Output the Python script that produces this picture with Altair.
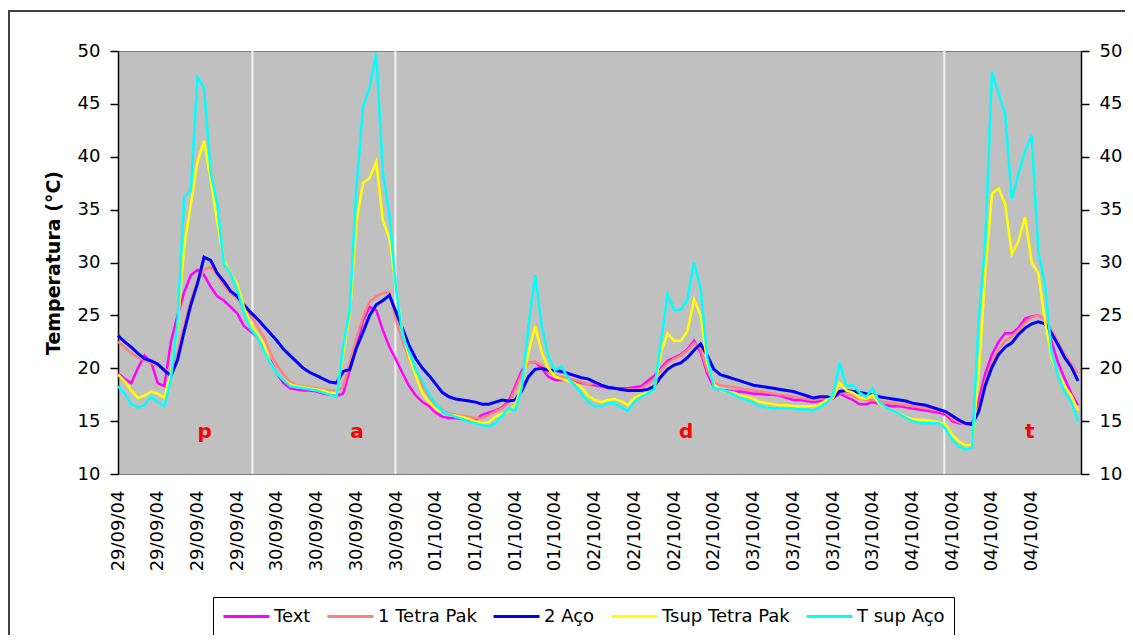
import json
import altair as alt
import pandas as pd

# ---------------- data ----------------
hours = list(range(146))  # hours since 29/09/04 00:00

text_vals = [
    19.5, 19.0, 18.6, 20.0, 21.2, 20.6, 18.6, 18.3, 22.5, 25.0,
    27.2, 28.8, 29.3, 28.8, 27.7, 26.8, 26.4, 25.8, 25.2, 24.0,
    23.5, 23.0, 21.8, 20.8, 19.5, 18.6, 18.1, 18.0, 17.9, 17.9,
    17.8, 17.6, 17.5, 17.4,
    17.6, 19.8, 22.0, 24.5, 25.8, 25.5, 23.6, 22.0, 20.8, 19.5,
    18.3, 17.4, 16.8, 16.4, 15.8, 15.4, 15.3, 15.3, 15.2, 15.1,
    15.1, 15.6, 15.8, 16.0, 16.3, 16.9, 18.3, 19.8, 20.5, 20.6,
    20.0, 19.2, 18.9, 18.9, 18.9, 18.8, 18.6, 18.5,
    18.4, 18.3, 18.1, 18.1, 18.1, 18.1, 18.2, 18.3, 18.8, 19.3,
    20.0, 20.7, 21.0, 21.3, 21.8, 22.6, 21.5, 19.5, 18.2, 17.9,
    17.9, 17.8, 17.8, 17.7, 17.6, 17.6, 17.5, 17.5, 17.4, 17.2,
    17.0, 17.0, 16.9, 16.8, 16.9, 17.1,
    17.2, 17.6, 17.3, 17.0, 16.6, 16.6, 16.8, 16.6, 16.5, 16.4,
    16.4, 16.3, 16.2, 16.1, 16.0, 15.9, 15.8, 15.6, 15.0, 14.8,
    14.8, 14.8, 17.0, 19.5, 21.3, 22.5, 23.3, 23.3, 23.8, 24.7,
    24.9, 25.0, 24.6, 22.5, 20.5, 19.0, 17.6, 16.5,
]

tetra_vals = [
    22.5, 22.0, 21.4, 21.0, 20.8, 20.5, 20.2, 19.9, 19.7, 21.5,
    24.0, 26.5, 28.2, 29.3, 29.6, 28.8, 27.8, 27.1, 26.6, 25.8,
    25.0, 24.0, 23.0, 21.5, 20.3, 19.4, 18.7, 18.4, 18.3, 18.2,
    18.1, 18.0, 17.9, 17.9,
    18.2, 20.5, 22.8, 24.8, 26.3, 26.8, 27.1, 27.2, 24.5, 22.5,
    20.8, 19.5, 18.3, 17.3, 16.5, 16.0, 15.7, 15.6, 15.5, 15.4,
    15.3, 15.3, 15.6, 15.9, 16.2, 16.7, 18.0, 19.5, 20.5, 20.6,
    20.3, 19.6, 19.3, 19.2, 19.0, 18.9, 18.7, 18.5,
    18.6, 18.4, 18.2, 18.1, 18.0, 18.0, 18.0, 18.1, 18.5, 19.0,
    19.8, 20.5, 20.9, 21.2, 21.7, 22.4, 21.8, 19.8, 18.6, 18.4,
    18.3, 18.2, 18.1, 18.0, 17.9, 17.8, 17.7, 17.6, 17.5, 17.4,
    17.3, 17.2, 17.1, 17.0, 17.1, 17.2,
    17.3, 17.7, 17.6, 17.4, 17.1, 17.0, 17.0, 16.9, 16.8, 16.7,
    16.6, 16.5, 16.4, 16.3, 16.2, 16.1, 16.0, 15.8, 15.2, 14.9,
    14.7, 14.7, 16.2, 18.8, 20.6, 21.8, 22.6, 23.0, 23.6, 24.3,
    24.8, 25.0, 24.6, 23.6, 22.5, 21.3, 20.4, 19.5,
]

aco_vals = [
    23.1, 22.5, 22.0, 21.4, 20.9, 20.7, 20.4, 19.8, 19.3, 20.8,
    23.5, 26.0, 28.0, 30.5, 30.2, 29.0, 28.2, 27.3, 26.8, 26.0,
    25.3, 24.7, 24.0, 23.3, 22.6, 21.8, 21.2, 20.6, 20.0, 19.6,
    19.3, 19.0, 18.7, 18.6,
    19.7, 19.9, 21.9, 23.4, 25.0, 26.0, 26.4, 26.9, 25.3, 23.7,
    22.1, 20.9, 20.0, 19.3, 18.5, 17.7, 17.3, 17.1, 17.0, 16.9,
    16.8, 16.6, 16.6, 16.8, 17.0, 16.9, 17.0, 17.9, 19.2, 19.9,
    20.0, 19.8, 19.8, 19.7, 19.5, 19.3, 19.1, 19.0,
    18.7, 18.4, 18.2, 18.1, 18.0, 17.9, 17.9, 17.9, 18.0, 18.3,
    19.2, 19.9, 20.3, 20.5, 21.0, 21.7, 22.3, 21.2, 19.9, 19.4,
    19.2, 19.0, 18.8, 18.6, 18.4, 18.3, 18.2, 18.1, 18.0, 17.9,
    17.8, 17.6, 17.4, 17.2, 17.3, 17.3,
    17.2, 17.8, 17.9, 17.8, 17.7, 17.6, 17.5, 17.3, 17.2, 17.1,
    17.0, 16.9, 16.7, 16.6, 16.5, 16.3, 16.1, 15.9, 15.5, 15.1,
    14.8, 14.7, 15.9, 18.4, 20.1, 21.3, 22.0, 22.4, 23.2, 23.8,
    24.2, 24.4, 24.2, 23.3, 22.2, 21.0, 20.1, 18.8,
]

tsup_tetra_vals = [
    19.4, 18.8, 17.9, 17.2, 17.4, 17.8, 17.6, 17.2, 19.5, 24.0,
    31.5, 35.5, 39.5, 41.5, 37.8, 33.8, 30.2, 29.0, 28.0, 25.8,
    24.2, 23.3, 22.3, 20.6, 19.5, 18.9, 18.5, 18.3, 18.2, 18.1,
    18.0, 17.9, 17.7, 17.6,
    21.4, 25.0, 33.7, 37.5, 38.0, 39.5, 34.0, 32.3, 27.5, 23.3,
    21.0, 19.3, 17.6, 16.8, 16.1, 15.9, 15.6, 15.5, 15.4, 15.2,
    15.0, 14.8, 14.9, 15.4, 15.7, 15.9, 16.5, 18.5, 21.5, 24.0,
    21.5, 20.0, 19.2, 19.0, 18.8, 18.6, 18.2, 17.4,
    17.0, 16.8, 17.0, 17.1, 16.9, 16.5, 17.2, 17.5, 17.7, 17.9,
    21.5, 23.3, 22.6, 22.6, 23.5, 26.5, 25.0, 20.5, 18.5, 17.9,
    17.8, 17.7, 17.4, 17.3, 17.1, 16.8, 16.7, 16.6, 16.5, 16.5,
    16.4, 16.4, 16.4, 16.4, 16.6, 17.0,
    17.2, 18.6, 17.9, 17.7, 17.2, 17.1, 17.5, 16.6, 16.3, 16.0,
    15.7, 15.4, 15.2, 15.1, 15.1, 15.0, 14.9, 14.7, 13.7, 13.1,
    12.7, 12.8, 19.5, 29.0, 36.5, 37.0, 35.5, 30.8, 32.0, 34.3,
    30.0, 29.0, 24.5, 21.0, 19.5, 18.3, 17.4, 16.0,
]

tsup_aco_vals = [
    18.3, 17.6, 16.6, 16.3, 16.5, 17.3, 16.8, 16.4, 19.0, 24.5,
    36.2, 36.8, 47.5, 46.5, 38.5, 35.5, 29.8, 29.0, 27.4, 25.3,
    23.7, 23.0, 21.7, 20.5, 19.5, 18.9, 18.3, 18.2, 18.1, 18.0,
    17.9, 17.7, 17.5, 17.3,
    22.0, 25.5, 37.0, 44.7, 46.5, 49.8, 38.5, 34.5, 27.5, 23.0,
    21.5, 19.8, 18.8, 17.5, 16.6, 15.9, 15.6, 15.4, 15.2, 14.9,
    14.8, 14.6, 14.5, 14.8, 15.5, 16.2, 16.0, 18.2, 24.0, 28.8,
    24.0, 21.1, 19.8, 20.2, 19.0, 18.4, 17.6, 16.8,
    16.4, 16.4, 16.7, 16.7, 16.3, 16.0, 16.8, 17.3, 17.6, 18.0,
    22.5, 27.0, 25.5, 25.5, 26.5, 30.0, 27.5, 21.0, 18.1, 18.0,
    17.8, 17.5, 17.2, 17.0, 16.7, 16.4, 16.3, 16.2, 16.2, 16.2,
    16.2, 16.1, 16.1, 16.0, 16.3, 16.7,
    17.5, 20.5, 18.3, 18.4, 17.7, 17.3, 18.1, 16.8, 16.3, 16.0,
    15.7, 15.3, 15.0, 14.8, 14.8, 14.8, 14.8, 14.3, 13.2, 12.6,
    12.3, 12.5, 24.5, 32.0, 48.0, 46.0, 44.0, 36.0, 38.4, 40.5,
    42.0, 31.0, 28.0, 21.5, 19.3, 17.7, 16.8, 15.0,
]

series_names = ["Text", "1 Tetra Pak", "2 Aço", "Tsup Tetra Pak", "T sup Aço"]
series_values = [text_vals, tetra_vals, aco_vals, tsup_tetra_vals, tsup_aco_vals]
series_colors = ["#FF00FF", "#FF8080", "#0000FF", "#FFFF00", "#00FFFF"]

day_labels = ["29/09/04", "30/09/04", "01/10/04", "02/10/04", "03/10/04", "04/10/04"]
tick_labels = [d for d in day_labels for _ in range(4)]
tick_hours = [6 * i for i in range(len(tick_labels))]

separator_hours = [20.3, 41.9, 124.8]

marker_letters = ["p", "a", "d", "t"]
marker_hours = [13.1, 36.1, 85.8, 137.7]
marker_temps = [13.4, 13.4, 13.4, 13.4]

y_ticks = [10, 15, 20, 25, 30, 35, 40, 45, 50]

# ---------------- chart ----------------
FONT = "DejaVu Sans"
x_scale = alt.Scale(domain=[0, 145.45], nice=False, zero=False)
y_scale = alt.Scale(domain=[10, 50], nice=False, zero=False)

label_expr = json.dumps(tick_labels) + "[round(datum.value / 6)]"
x_axis = alt.Axis(
    values=tick_hours, labelExpr=label_expr, labelAngle=270, title=None,
    grid=False, ticks=False, labelPadding=16, labelFont=FONT, labelFontSize=18,
    labelColor="#000000", domainColor="#808080", domainWidth=1, labelOverlap=False,
)
x_enc = alt.X("h:Q", scale=x_scale, axis=x_axis)

color_enc = alt.Color(
    "serie:N",
    scale=alt.Scale(domain=series_names, range=series_colors),
    legend=alt.Legend(
        title=None, orient="none", legendX=95, legendY=546, direction="horizontal",
        columns=5, symbolType="stroke", symbolSize=2116, symbolStrokeWidth=3,
        clipHeight=21,
        labelFont=FONT, labelFontSize=18, labelColor="#000000", labelOffset=3,
        columnPadding=15, padding=9, strokeColor="#000000", fillColor="#FFFFFF",
        labelLimit=400, cornerRadius=0,
    ),
)

left_axis = alt.Axis(
    values=y_ticks, grid=False, title="Temperatura  (°C)", titleFont=FONT,
    titleFontWeight="bold", titleFontSize=19, titleColor="#000000", titlePadding=14,
    labelFont=FONT, labelFontSize=18, labelColor="#000000", labelPadding=10,
    tickSize=8, tickWidth=1.5, tickColor="#000000", domainColor="#000000", domainWidth=1.5,
)
right_axis = alt.Axis(
    values=y_ticks, grid=False, orient="right", title=None,
    labelFont=FONT, labelFontSize=18, labelColor="#000000", labelPadding=10,
    tickSize=8, tickWidth=1.5, tickColor="#000000", domainColor="#000000", domainWidth=1.5,
)

layers = []

frame = alt.Chart(pd.DataFrame({"k": [0]})).mark_rect(
    filled=False, stroke="#404040", strokeWidth=2
).encode(x=alt.value(-109), x2=alt.value(1100), y=alt.value(-40), y2=alt.value(650))
layers.append(frame)

sep_df = pd.DataFrame({"h": separator_hours})
layers.append(alt.Chart(sep_df).mark_rule(color="#F4F4F4", strokeWidth=2).encode(x=x_enc))

for i, (name, vals) in enumerate(zip(series_names, series_values)):
    df = pd.DataFrame({"h": hours, "T": vals, "serie": name})
    layers.append(
        alt.Chart(df).mark_line(strokeWidth=3 if name == "2 Aço" else 2.5).encode(
            x=x_enc,
            y=alt.Y("T:Q", scale=y_scale, axis=left_axis if i == 0 else None),
            color=color_enc,
        )
    )

mk_df = pd.DataFrame({"h": marker_hours, "T": marker_temps, "txt": marker_letters})
layers.append(
    alt.Chart(mk_df).mark_text(
        font=FONT, fontWeight="bold", fontSize=20, color="#FF0000",
        baseline="alphabetic", align="center",
    ).encode(x=x_enc, y=alt.Y("T:Q", scale=y_scale, axis=right_axis), text="txt:N")
)

chart = (
    alt.layer(*layers)
    .resolve_axis(y="independent")
    .properties(
        width=963, height=423,
        padding={"left": 110, "top": 43, "right": 44, "bottom": 161},
        autosize=alt.AutoSizeParams(type="none"),
        background="#FFFFFF",
    )
    .configure_view(fill="#C0C0C0", stroke="#808080", strokeWidth=1)
)

chart.save("out.html", embed_options={"renderer": "svg", "actions": False})
